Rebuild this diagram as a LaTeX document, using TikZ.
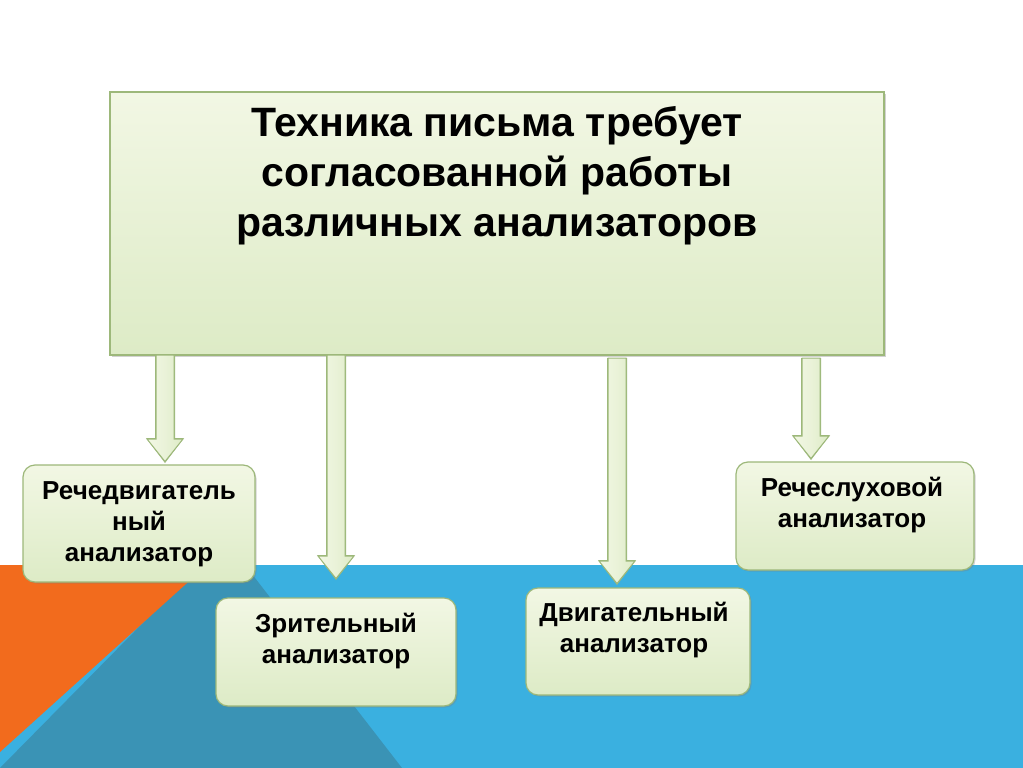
\documentclass[tikz,border=0pt]{standalone}
\usepackage{fontspec}
\setmainfont{Liberation Sans}
\usetikzlibrary{shadows}
\definecolor{bblue}{HTML}{3AB0E0}
\definecolor{bteal}{HTML}{3A93B5}
\definecolor{borange}{HTML}{F26B1D}
\definecolor{gtop}{HTML}{F2F7E4}
\definecolor{gbot}{HTML}{DDEBC6}
\definecolor{gedge}{HTML}{9DB87A}
\tikzset{
 box/.style={draw=gedge,line width=1.2pt,top color=gtop,bottom color=gbot,drop shadow={shadow xshift=1.5pt,shadow yshift=-1.5pt,opacity=0.35}},
 rbox/.style={box,rounded corners=12pt},
 barrow/.style={draw=gedge,line width=1pt,left color=gtop,right color=gbot,middle color=gtop!60!gbot},
 btxt/.style={font=\bfseries\fontsize{26}{31}\selectfont,align=center,anchor=north,inner sep=0pt},
 ttxt/.style={font=\bfseries\fontsize{41}{50}\selectfont,align=center,anchor=north,inner sep=0pt}
}
\newcommand{\blockarrow}[3]{% x, ytop, yend
 \fill[gedge] ({#1-10},{-#2}) -- ({#1+10},{-#2}) -- ({#1+10},{-(#3-25)}) -- ({#1+19},{-(#3-25)}) -- (#1,{-#3}) -- ({#1-19},{-(#3-25)}) -- ({#1-10},{-(#3-25)}) -- cycle;
 \path[barrow] ({#1-9},{-#2}) -- ({#1+9},{-#2}) -- ({#1+9},{-(#3-24)}) -- ({#1+18},{-(#3-24)}) -- (#1,{-#3+1.5}) -- ({#1-18},{-(#3-24)}) -- ({#1-9},{-(#3-24)}) -- cycle;}
\begin{document}
\begin{tikzpicture}[x=1pt,y=1pt]
\useasboundingbox (0,0) rectangle (1023,-768);
\fill[white] (0,0) rectangle (1023,-768);
\fill[bblue] (0,-565) rectangle (1023,-768);
\fill[bteal] (200,-565) -- (245,-565) -- (402,-768) -- (0,-768) -- cycle;
\fill[borange] (0,-565) -- (207,-565) -- (0,-752) -- cycle;
\node[box,minimum width=774pt,minimum height=263pt] (main) at (497,-223.5) {};
\node[ttxt] (mt) at (497,-106) {Техника письма требует\\согласованной работы\\ различных анализаторов};
\blockarrow{165}{355}{463}
\blockarrow{336}{355}{580}
\blockarrow{617}{358}{585}
\blockarrow{811}{358}{460}
\node[rbox,minimum width=232pt,minimum height=117pt] (b1) at (139,-523.5) {};
\node[btxt] at (139,-481) {Речедвигатель\\ный\\анализатор};
\node[rbox,minimum width=240pt,minimum height=108pt] (b2) at (336,-652) {};
\node[btxt] at (336,-613) {Зрительный\\анализатор};
\node[rbox,minimum width=224pt,minimum height=107pt] (b3) at (638,-641.5) {};
\node[btxt] at (634,-602) {Двигательный\\ анализатор};
\node[rbox,minimum width=238pt,minimum height=108pt] (b4) at (855,-516) {};
\node[btxt] at (852,-477) {Речеслуховой\\ анализатор};
\end{tikzpicture}
\end{document}
